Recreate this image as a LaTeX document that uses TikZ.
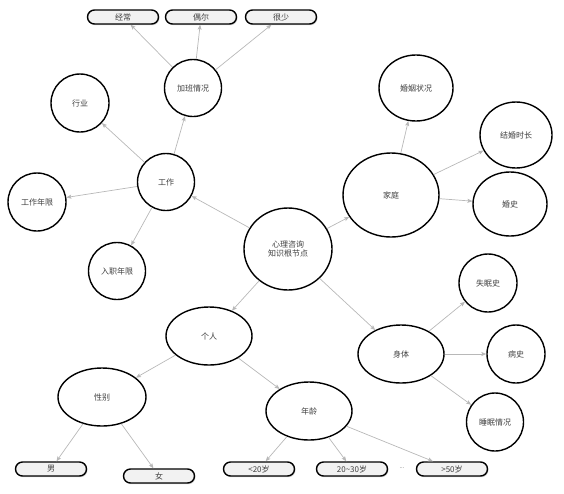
\documentclass[tikz,border=0pt]{standalone}
\usepackage{fontspec}
\setmainfont{Noto Sans CJK SC}
\usetikzlibrary{shapes.geometric, arrows.meta, shadows}

\begin{document}
\begin{tikzpicture}[x=1pt, y=-1pt,
  topic/.style={ellipse, draw, line width=1.4pt, fill=white, inner sep=0pt, align=center, text=black!75, font=\fontsize{8}{9.5}\selectfont},
  leaf/.style={rectangle, rounded corners=7pt, draw, line width=1.4pt, fill=black!5, minimum width=71pt, minimum height=14pt, inner sep=0pt, text=black!75, font=\fontsize{8}{9.5}\selectfont, drop shadow={shadow xshift=1pt, shadow yshift=-1.2pt, fill=black!35}},
  arr/.style={-{Stealth[length=5pt, width=4pt, inset=1pt]}, draw=black!28, line width=0.7pt}
]
\useasboundingbox (0,0) rectangle (564,493);

% root and main branches
\node[topic, minimum width=88pt, minimum height=82pt] (root) at (288,249) {心理咨询\\知识根节点};
\node[topic, minimum width=57pt, minimum height=57pt] (work) at (166,182) {工作};
\node[topic, minimum width=96pt, minimum height=84pt] (family) at (391,195) {家庭};
\node[topic, minimum width=86pt, minimum height=58pt] (person) at (209,336) {个人};
\node[topic, minimum width=86pt, minimum height=58pt] (body) at (401,354) {身体};

% work
\node[topic, minimum width=57pt, minimum height=57pt] (overtime) at (193,88) {加班情况};
\node[topic, minimum width=58pt, minimum height=58pt] (industry) at (80,103) {行业};
\node[topic, minimum width=58pt, minimum height=58pt] (years) at (37,202) {工作年限};
\node[topic, minimum width=57pt, minimum height=57pt] (entry) at (117,271) {入职年限};
\node[leaf] (often) at (123,17) {经常};
\node[leaf] (sometimes) at (201,17) {偶尔};
\node[leaf] (rarely) at (281,17) {很少};

% family
\node[topic, minimum width=74pt, minimum height=66pt] (marital) at (416,88) {婚姻状况};
\node[topic, minimum width=72pt, minimum height=66pt] (duration) at (516,135) {结婚时长};
\node[topic, minimum width=74pt, minimum height=64pt] (history) at (510,204) {婚史};

% person
\node[topic, minimum width=88pt, minimum height=58pt] (gender) at (102,397) {性别};
\node[topic, minimum width=86pt, minimum height=58pt] (age) at (309,411) {年龄};
\node[leaf] (male) at (51,469) {男};
\node[leaf] (female) at (159,476) {女};
\node[leaf] (age1) at (259,469) {<20岁};
\node[leaf] (age2) at (352,469) {20\textasciitilde30岁};
\node[text=black!60, font=\fontsize{6}{7}\selectfont] (dots) at (402,468) {...};
\node[leaf] (age3) at (452,469) {>50岁};

% body
\node[topic, minimum width=58pt, minimum height=58pt] (insomnia) at (488,283) {失眠史};
\node[topic, minimum width=58pt, minimum height=58pt] (illness) at (516,354) {病史};
\node[topic, minimum width=57pt, minimum height=58pt] (sleep) at (495,422) {睡眠情况};

\draw[arr] (root) -- (work);
\draw[arr] (root) -- (family);
\draw[arr] (root) -- (person);
\draw[arr] (root) -- (body);

\draw[arr] (work) -- (overtime);
\draw[arr] (work) -- (industry);
\draw[arr] (work) -- (years);
\draw[arr] (work) -- (entry);
\draw[arr] (overtime) -- (often);
\draw[arr] (overtime) -- (sometimes);
\draw[arr] (overtime) -- (rarely);

\draw[arr] (family) -- (marital);
\draw[arr] (family) -- (duration);
\draw[arr] (family) -- (history);

\draw[arr] (person) -- (gender);
\draw[arr] (person) -- (age);
\draw[arr] (gender) -- (male);
\draw[arr] (gender) -- (female);
\draw[arr] (age) -- (age1);
\draw[arr] (age) -- (age2);
\draw[arr] (age) -- (age3);

\draw[arr] (body) -- (insomnia);
\draw[arr] (body) -- (illness);
\draw[arr] (body) -- (sleep);

\end{tikzpicture}
\end{document}
